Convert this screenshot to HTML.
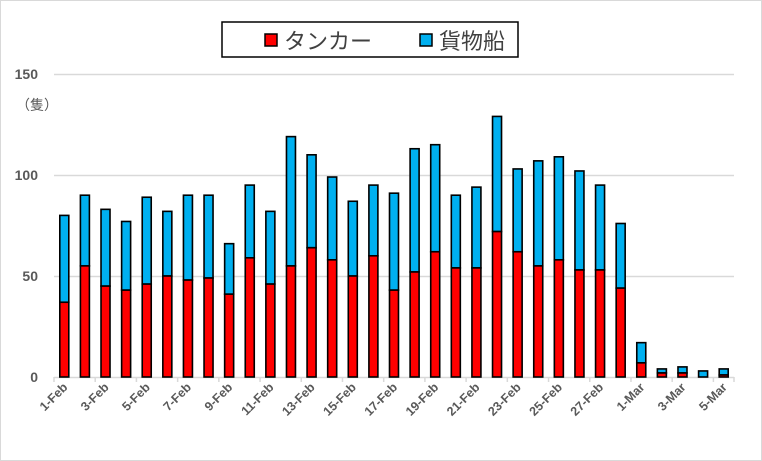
<!DOCTYPE html>
<html><head><meta charset="utf-8"><style>
html,body{margin:0;padding:0;background:#fff;}
svg{display:block;}
</style></head><body>
<svg id="c" width="762" height="461" xmlns="http://www.w3.org/2000/svg" font-family="Liberation Sans, Noto Sans CJK JP, sans-serif">
<rect x="0.5" y="0.5" width="761" height="460" fill="#fff" stroke="#d9d9d9"/>
<g stroke="#d9d9d9" stroke-width="1.5">
<line x1="54" x2="734" y1="74.5" y2="74.5"/>
<line x1="54" x2="734" y1="175.5" y2="175.5"/>
<line x1="54" x2="734" y1="276.5" y2="276.5"/>
<line x1="54" x2="734" y1="377.5" y2="377.5"/>
</g>
<g fill="#595959" font-size="14" text-anchor="end" font-weight="bold">
<text x="38" y="79">150</text>
<text x="38" y="180">100</text>
<text x="38" y="281">50</text>
<text x="38" y="382">0</text>
</g>
<text x="16" y="110" fill="#595959" font-size="14">（隻）</text>
<g id="bars"></g>
<g id="ticks" stroke="#d9d9d9" stroke-width="1.5"></g>
<g id="labels" fill="#595959" font-size="12.5" font-weight="bold"></g>
<rect x="222" y="22" width="296" height="35" fill="#fff" stroke="#000" stroke-width="1.5"/>
<rect x="265" y="34" width="12" height="12" fill="#ff0000" stroke="#000" stroke-width="1.5"/>
<text x="284" y="49" font-size="22" fill="#404040">タンカー</text>
<rect x="420" y="34" width="12" height="12" fill="#00b0f0" stroke="#000" stroke-width="1.5"/>
<text x="439" y="49" font-size="22" fill="#404040">貨物船</text>
</svg>
<script>
var t=[37,55,45,43,46,50,48,49,41,59,46,55,64,58,50,60,43,52,62,54,54,72,62,55,58,53,53,44,7,2,2,0,1];
var tot=[80,90,83,77,89,82,90,90,66,95,82,119,110,99,87,95,91,113,115,90,94,129,103,107,109,102,95,76,17,4,5,3,4];
var ns="http://www.w3.org/2000/svg",b=document.getElementById('bars'),tk=document.getElementById('ticks'),lb=document.getElementById('labels');
var x0=54,w=(734-54)/33,y0=377,k=303/150;
function el(n,a,p){var e=document.createElementNS(ns,n);for(var i in a)e.setAttribute(i,a[i]);p.appendChild(e);return e;}
for(var i=0;i<33;i++){
 var cx=x0+w*(i+0.5),bw=9;
 var yt=y0-t[i]*k,ya=y0-tot[i]*k;
 el('rect',{x:cx-bw/2,y:ya,width:bw,height:yt-ya,fill:'#00b0f0',stroke:'#000','stroke-width':1.6},b);
 if(t[i]>0)el('rect',{x:cx-bw/2,y:yt,width:bw,height:y0-yt,fill:'#ff0000',stroke:'#000','stroke-width':1.6},b);
 if(i%2==0){
  var tx=x0+w*i;
  el('line',{x1:tx,x2:tx,y1:377,y2:382},tk);
  var lab=i<28?(i+1)+'-Feb':(i-27)+'-Mar';
  var e=el('text',{x:cx+4,y:388,'text-anchor':'end',transform:'rotate(-45 '+(cx+4)+' 388)'},lb);
  e.textContent=lab;
 }
}
el('line',{x1:734,x2:734,y1:377,y2:382},tk);
</script>
</body></html>
